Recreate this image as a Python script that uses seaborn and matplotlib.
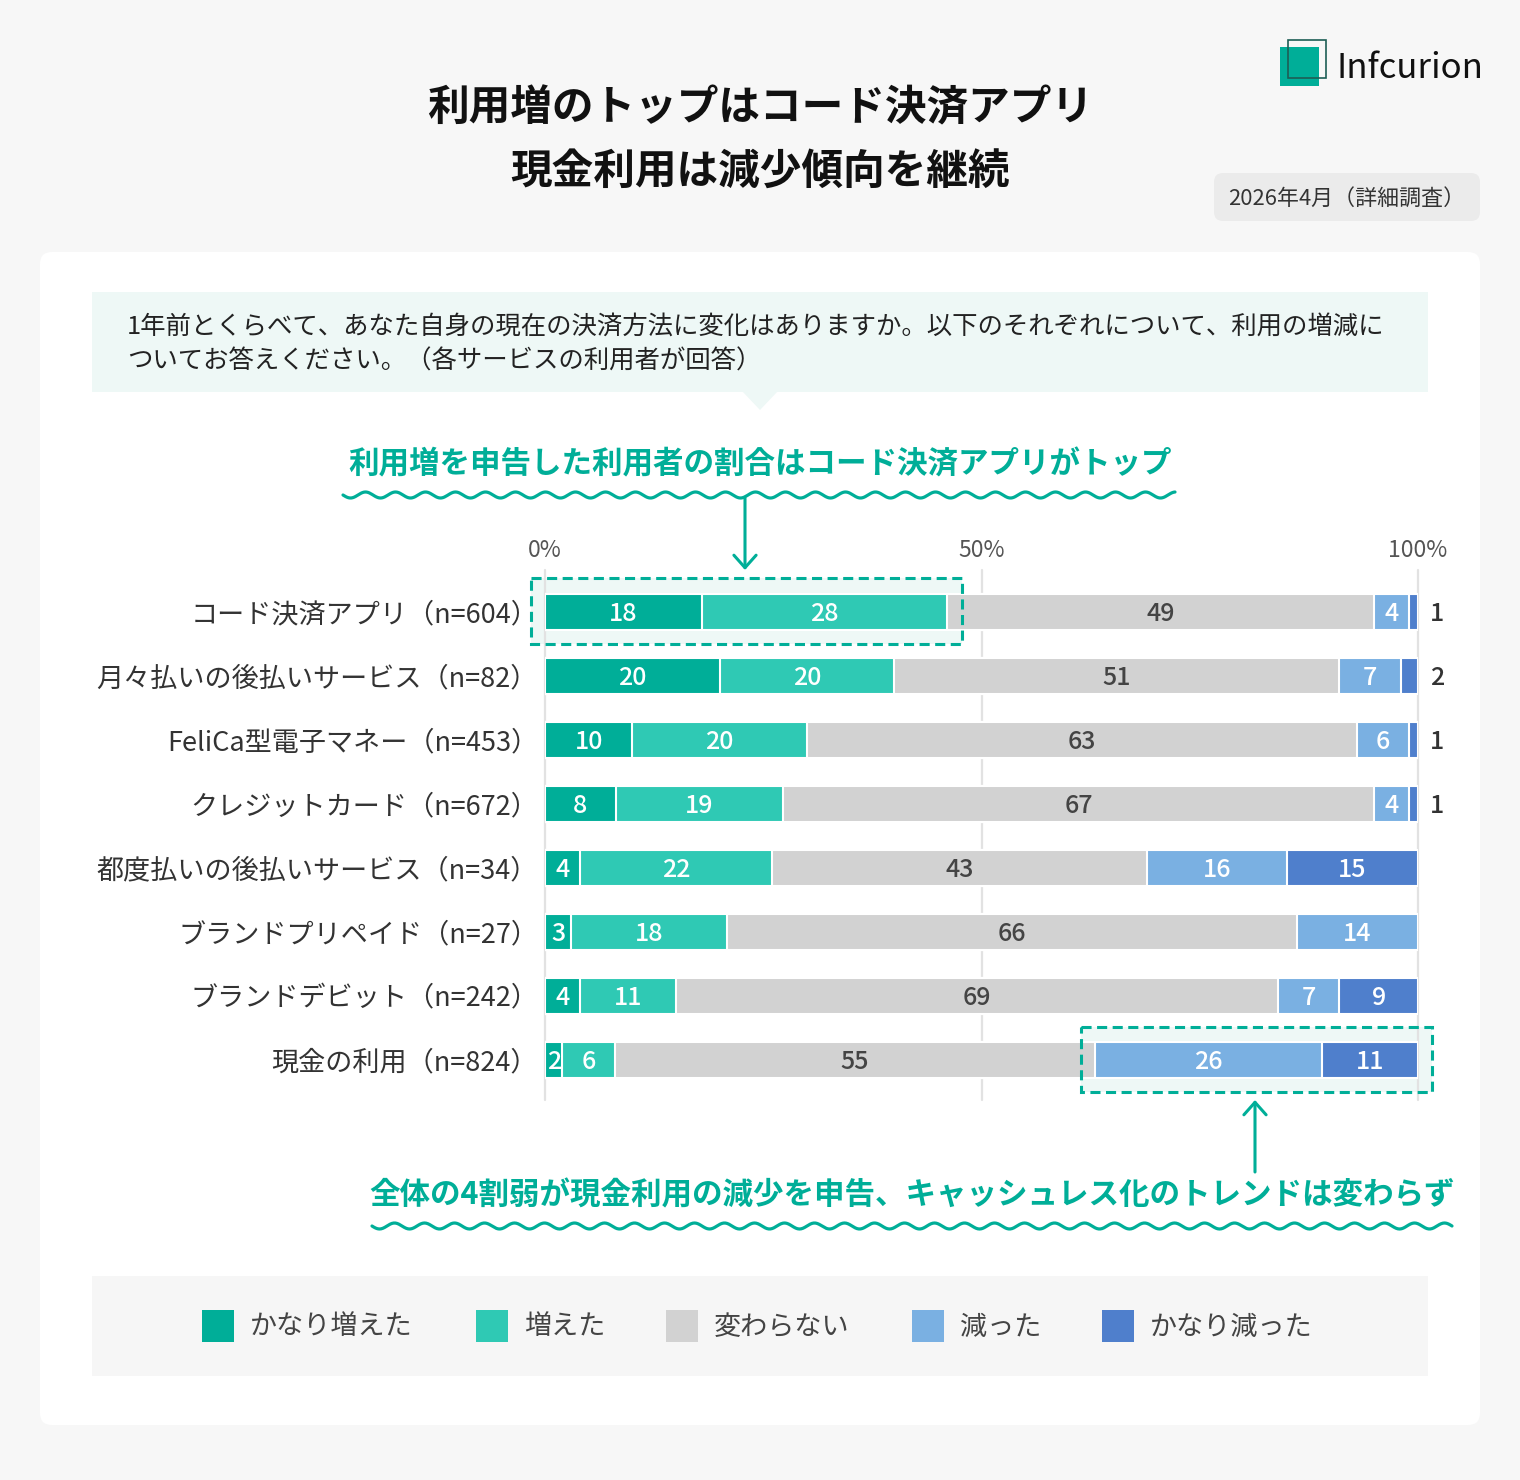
import numpy as np
import pandas as pd
import matplotlib.pyplot as plt
import matplotlib.transforms as mtransforms
import seaborn as sns
from matplotlib.patches import FancyBboxPatch, Rectangle, Polygon, FancyArrowPatch
from matplotlib.lines import Line2D

# ---- data ----
categories = [
    "コード決済アプリ（n=604）",
    "月々払いの後払いサービス（n=82）",
    "FeliCa型電子マネー（n=453）",
    "クレジットカード（n=672）",
    "都度払いの後払いサービス（n=34）",
    "ブランドプリペイド（n=27）",
    "ブランドデビット（n=242）",
    "現金の利用（n=824）",
]
levels = ["かなり増えた", "増えた", "変わらない", "減った", "かなり減った"]
much_up = [18, 20, 10, 8, 4, 3, 4, 2]
up = [28, 20, 20, 19, 22, 18, 11, 6]
same = [49, 51, 63, 67, 43, 66, 69, 55]
down = [4, 7, 6, 4, 16, 14, 7, 26]
much_down = [1, 2, 1, 1, 15, 0, 9, 11]
colors = ["#00ae98", "#2fc9b4", "#d2d2d2", "#7ab0e2", "#4f7fcc"]

title_lines = ["利用増のトップはコード決済アプリ", "現金利用は減少傾向を継続"]
question = ["1年前とくらべて、あなた自身の現在の決済方法に変化はありますか。以下のそれぞれについて、利用の増減に",
            "ついてお答えください。（各サービスの利用者が回答）"]
note_top = "利用増を申告した利用者の割合はコード決済アプリがトップ"
note_bottom = "全体の4割弱が現金利用の減少を申告、キャッシュレス化のトレンドは変わらず"
date_label = "2026年4月（詳細調査）"

TEAL = "#00ae98"
W, H = 1520, 1480

sns.set_theme(style="white")
plt.rcParams["font.family"] = ["Noto Sans CJK JP", "DejaVu Sans"]

fig = plt.figure(figsize=(W / 100, H / 100), dpi=100, facecolor="#f7f7f7")
# pixel coords, origin top-left
pix = mtransforms.Affine2D().scale(1 / W, -1 / H).translate(0, 1) + fig.transFigure


def box(x, y, w, h, fc, r=0, z=-5, **kw):
    p = FancyBboxPatch((x, y), w, h, boxstyle=f"round,pad=0,rounding_size={r}",
                       transform=pix, facecolor=fc, edgecolor="none", zorder=z, **kw)
    fig.add_artist(p)
    return p


def wave(x0, x1, y0):
    xs = np.linspace(x0, x1, 600)
    ys = y0 + 3 * np.sin(2 * np.pi * (xs - x0) / 30)
    fig.add_artist(Line2D(xs, ys, transform=pix, color=TEAL, lw=2.3))


# background card and boxes
box(40, 252, 1440, 1173, "white", r=12, z=-10)
box(92, 292, 1336, 100, "#eef8f6", z=-9)
fig.add_artist(Polygon([[742, 391], [778, 391], [760, 410]], closed=True, transform=pix,
                       facecolor="#eef8f6", edgecolor="none", zorder=-9))
box(92, 1276, 1336, 100, "#f6f6f6", z=-9)
box(1214, 173, 266, 48, "#ebebeb", r=9, z=-9)

# highlight boxes (fill behind bars, dashed edge above)
hl = [(531, 578, 431, 66), (1081, 1027, 351, 65)]
for x, y, w, h in hl:
    fig.add_artist(Rectangle((x, y), w, h, transform=pix, facecolor="#eef8f6",
                             edgecolor="none", zorder=-8))
    fig.add_artist(Rectangle((x, y), w, h, transform=pix, facecolor="none",
                             edgecolor=TEAL, lw=2.2, linestyle=(0, (3.3, 1.8)), zorder=5))

# titles and texts
fig.text(760, 108, title_lines[0], transform=pix, ha="center", va="center",
         fontsize=30, fontweight="bold", color="#111111")
fig.text(760, 173, title_lines[1], transform=pix, ha="center", va="center",
         fontsize=30, fontweight="bold", color="#111111")
fig.text(1347, 199, date_label, transform=pix, ha="center", va="center",
         fontsize=15.8, color="#333333")
fig.text(127, 327, question[0], transform=pix, ha="left", va="center", fontsize=18.3, color="#222222")
fig.text(127, 362, question[1], transform=pix, ha="left", va="center", fontsize=18.3, color="#222222")

fig.text(760, 464, note_top, transform=pix, ha="center", va="center",
         fontsize=22, fontweight="bold", color=TEAL)
wave(343, 1175, 495)
fig.text(912, 1195, note_bottom, transform=pix, ha="center", va="center",
         fontsize=22, fontweight="bold", color=TEAL)
wave(372, 1452, 1226)

for a, b in [((745, 498), (745, 570)), ((1255, 1172), (1255, 1100))]:
    fig.add_artist(FancyArrowPatch(a, b, transform=pix, arrowstyle="->,head_length=0.45,head_width=0.4",
                                   mutation_scale=20, color=TEAL, lw=2.2, shrinkA=0, shrinkB=0))

# logo
fig.add_artist(Rectangle((1280, 47), 39, 39, transform=pix, facecolor=TEAL, edgecolor="none"))
fig.add_artist(Rectangle((1288, 40), 38, 38, transform=pix, facecolor="none",
                         edgecolor="#1d5e55", lw=1.2))
fig.text(1336, 68, "Infcurion", transform=pix, ha="left", va="center", fontsize=25, color="#111111")

# ---- stacked bars ----
df = pd.DataFrame({"category": categories, levels[0]: much_up, levels[1]: up,
                   levels[2]: same, levels[3]: down, levels[4]: much_down})
vals = df[levels].to_numpy(dtype=float)
shares = vals / vals.sum(axis=1, keepdims=True) * 100
cum = np.cumsum(shares, axis=1)

ax = fig.add_axes([545 / W, 1 - 1092 / H, 873 / W, 512 / H])
ax.set_facecolor("none")
for i in reversed(range(len(levels))):
    sns.barplot(x=cum[:, i], y=df["category"], orient="h", color=colors[i], saturation=1,
                width=0.5625, edgecolor="white", linewidth=1.5, errorbar=None, ax=ax, zorder=2)

for r in range(len(categories)):
    for i in range(len(levels)):
        v = vals[r, i]
        if v <= 0:
            continue
        if i == len(levels) - 1 and v <= 2:
            ax.text(102.2, r + 0.03, f"{int(v)}", ha="center", va="center", fontsize=18,
                    fontweight="medium", color="#333333", clip_on=False)
            continue
        xc = cum[r, i] - shares[r, i] / 2
        ax.text(xc, r + 0.03, f"{int(v)}", ha="center", va="center", fontsize=18,
                fontweight="medium", color="#444444" if i == 2 else "white", zorder=4)

for x in [0, 50, 100]:
    ax.axvline(x, ymin=-0.016, ymax=1.02, color="#e2e2e2", lw=1.6, zorder=0.5, clip_on=False)

ax.set_xlim(0, 100)
ax.xaxis.tick_top()
ax.set_xticks([0, 50, 100])
ax.set_xticklabels(["0%", "50%", "100%"])
ax.tick_params(axis="x", length=0, pad=13, labelsize=16.5, labelcolor="#555555")
ax.tick_params(axis="y", length=0, pad=5, labelsize=19.5, labelcolor="#333333")
ax.set_xlabel("")
ax.set_ylabel("")
for s in ax.spines.values():
    s.set_visible(False)

# legend
leg_x = [202, 476, 666, 912, 1102]
for x, lab, c in zip(leg_x, levels, colors):
    fig.add_artist(Rectangle((x, 1310), 32, 32, transform=pix, facecolor=c, edgecolor="none"))
    fig.text(x + 48, 1327, lab, transform=pix, ha="left", va="center", fontsize=19.5, color="#444444")

fig.savefig("out.png", dpi=100, facecolor=fig.get_facecolor())
